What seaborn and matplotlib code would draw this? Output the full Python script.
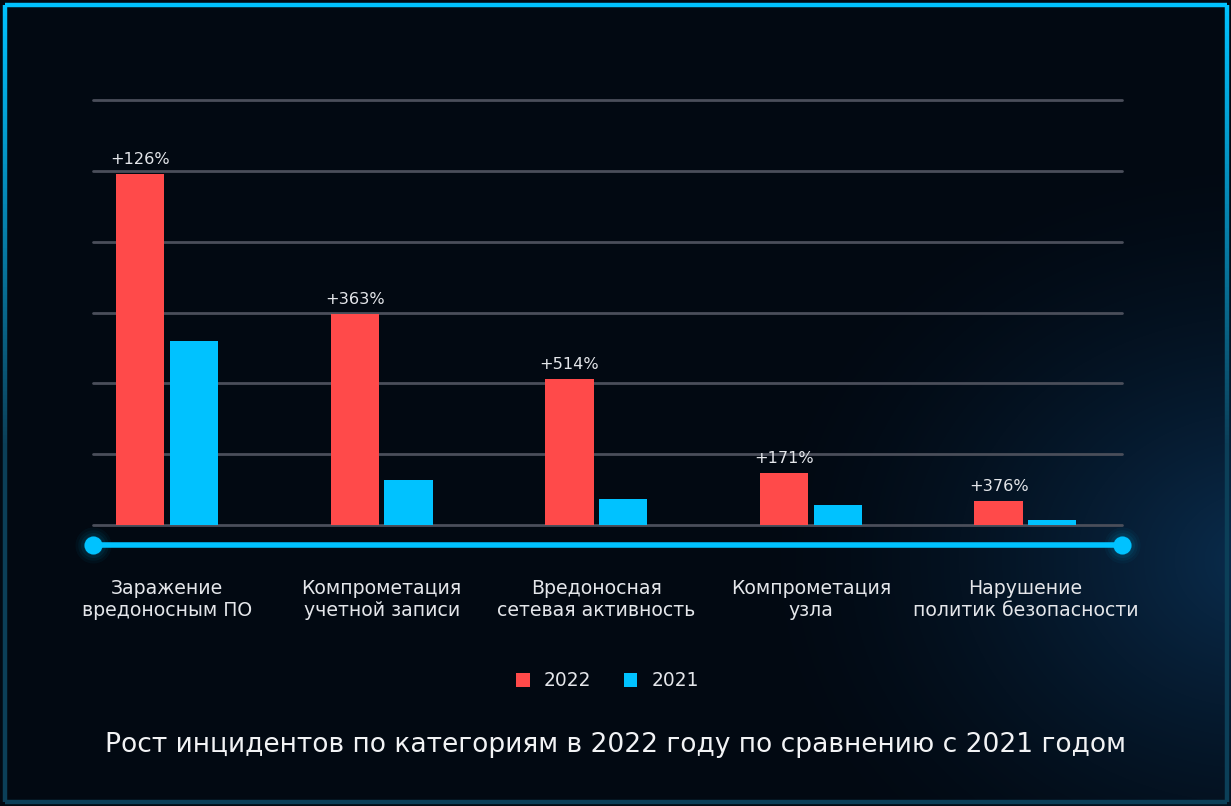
import numpy as np
import pandas as pd
import matplotlib
matplotlib.use("Agg")
import matplotlib.pyplot as plt
import seaborn as sns
from matplotlib.collections import LineCollection

# ---- data ----
categories = [
    "Заражение\nвредоносным ПО",
    "Компрометация\nучетной записи",
    "Вредоносная\nсетевая активность",
    "Компрометация\nузла",
    "Нарушение\nполитик безопасности",
]
values_2022 = [4.96, 2.98, 2.06, 0.73, 0.34]
values_2021 = [2.60, 0.64, 0.37, 0.28, 0.07]
growth_labels = ["+126%", "+363%", "+514%", "+171%", "+376%"]
years = ["2022", "2021"]
title = "Рост инцидентов по категориям в 2022 году по сравнению с 2021 годом"

RED = "#FF4A4A"
CYAN = "#00C2FF"
TEXT = "#E4E6EA"
GRID = "#4A4E5A"

df = pd.DataFrame({
    "cat": categories * 2,
    "year": [years[0]] * len(categories) + [years[1]] * len(categories),
    "val": values_2022 + values_2021,
})

sns.set_theme(style="dark")
plt.rcParams["font.family"] = ["DejaVu Sans"]

W, H = 1231, 806
fig = plt.figure(figsize=(W / 100, H / 100), dpi=100, facecolor="black")

# ---- background with gradient and frame ----
bg = fig.add_axes([0, 0, 1, 1], zorder=-10)
bg.set_axis_off()
yy, xx = np.mgrid[0:H, 0:W]
base = np.array([2, 9, 18], dtype=float) / 255
glow = np.array([10, 45, 78], dtype=float) / 255
d = np.sqrt(((xx - 1260) / 520.0) ** 2 + ((yy - 560) / 420.0) ** 2)
g = np.clip(1 - d, 0, 1) ** 1.6
img = base[None, None, :] * (1 - g[..., None]) + glow[None, None, :] * g[..., None]
bg.imshow(img, extent=[0, W, H, 0], aspect="auto", interpolation="bilinear")
bg.set_xlim(0, W)
bg.set_ylim(H, 0)
# frame
x0, x1, y0, y1 = 4.5, W - 4.5, 4.5, H - 4.5
bg.plot([x0, x1], [y0, y0], color=CYAN, lw=3.2, solid_capstyle="butt")
bg.plot([x0, x1], [y1, y1], color="#0B3F58", lw=3.2, solid_capstyle="butt")
n = 200
ys = np.linspace(y0, y1, n + 1)
cols = []
c_top = np.array(matplotlib.colors.to_rgb(CYAN))
c_bot = np.array(matplotlib.colors.to_rgb("#0B3F58"))
for i in range(n):
    t = min(1.0, (i / n) / 0.55)
    cols.append(c_top * (1 - t) + c_bot * t)
for xv in (x0, x1):
    segs = [[(xv, ys[i]), (xv, ys[i + 1])] for i in range(n)]
    bg.add_collection(LineCollection(segs, colors=cols, linewidths=3.2))

# ---- main axes ----
ax = fig.add_axes([93 / W, 1 - 525 / H, (1122 - 93) / W, (525 - 100) / H])
ax.set_facecolor("none")
sns.barplot(data=df, x="cat", y="val", hue="year", hue_order=years,
            palette=[RED, CYAN], width=0.5, gap=0.1, saturation=1,
            edgecolor="none", linewidth=0, ax=ax, zorder=3)
ax.set_xlim(-0.345, 4.45)
ax.set_ylim(0, 6.0)
ax.set_yticks(np.arange(0, 7, 1))
ax.yaxis.grid(True, color=GRID, lw=2.0, zorder=0)
ax.xaxis.grid(False)
for gl in ax.get_ygridlines():
    gl.set_clip_on(False)
ax.set_yticklabels([])
ax.tick_params(axis="y", length=0)
ax.tick_params(axis="x", length=0, pad=39, labelsize=13.6, labelcolor=TEXT)
for lbl in ax.get_xticklabels():
    lbl.set_linespacing(1.2)
ax.set_xlabel("")
ax.set_ylabel("")
for s in ax.spines.values():
    s.set_visible(False)

# growth labels on 2022 bars
ax.bar_label(ax.containers[0], labels=growth_labels, padding=5,
             color=TEXT, fontsize=11.6)

# decorative axis line with glowing dots
ly = -20 / 425
ax.plot([0, 1], [ly, ly], transform=ax.transAxes, color=CYAN, lw=4.0,
        clip_on=False, zorder=5, solid_capstyle="butt")
for xa in (0, 1):
    for r, a in [(26, 0.04), (22, 0.05), (18, 0.07), (14, 0.1), (11, 0.15)]:
        ax.plot([xa], [ly], marker="o", ms=r, color=CYAN, alpha=a, mec="none",
                transform=ax.transAxes, clip_on=False, zorder=4)
    ax.plot([xa], [ly], marker="o", ms=13, color=CYAN, mec="none",
            transform=ax.transAxes, clip_on=False, zorder=6)

# legend
leg = ax.legend(loc="center", bbox_to_anchor=(0.5, 1 - (681 - 100) / 425),
                ncol=2, frameon=False, fontsize=13.4, handlelength=0.72,
                handleheight=0.72, handletextpad=0.75, columnspacing=1.75,
                labelcolor=TEXT)

# title
fig.text(0.5, 1 - 745 / H, title, ha="center", va="center",
         color="#F2F3F5", fontsize=19.1)

fig.savefig("out.png", dpi=100, facecolor="black")
